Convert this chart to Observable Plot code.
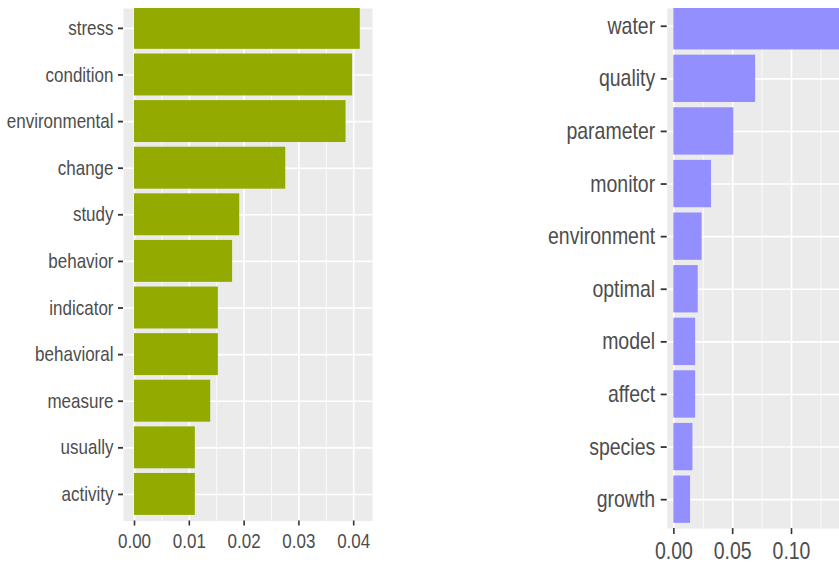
<!DOCTYPE html>
<html>
<head>
<meta charset="utf-8">
<script src="https://cdn.jsdelivr.net/npm/d3@7"></script>
<script src="https://cdn.jsdelivr.net/npm/@observablehq/plot@0.6"></script>
<style>
  html, body { margin: 0; padding: 0; background: #ffffff; }
  #fig { position: relative; width: 839px; height: 563px; overflow: hidden; background: #ffffff; }
  #left, #right { position: absolute; top: 0; }
  #left { left: 0px; }
  #right { left: 400px; }
  svg { display: block; }
</style>
</head>
<body>
<div id="fig"><div id="left"></div><div id="right"></div></div>
<script>
// ---- data ----
const leftTerms = ["stress","condition","environmental","change","study","behavior","indicator","behavioral","measure","usually","activity"];
const leftBeta  = [0.0412, 0.0398, 0.0386, 0.0276, 0.0192, 0.0179, 0.0153, 0.0153, 0.0139, 0.0111, 0.0111];
const leftTicks = [0, 0.01, 0.02, 0.03, 0.04];
const leftMinor = [0.005, 0.015, 0.025, 0.035];

const rightTerms = ["water","quality","parameter","monitor","environment","optimal","model","affect","species","growth"];
const rightBeta  = [0.18, 0.0695, 0.051, 0.032, 0.024, 0.0207, 0.0185, 0.0185, 0.0162, 0.0142];
const rightTicks = [0, 0.05, 0.10];
const rightMinor = [0.025, 0.075, 0.125];

const leftColor = "#93AA00";
const rightColor = "#938FFF";
const panelBg = "#EBEBEB";
const textColor = "#4D4D4D";
const tickColor = "#333333";
const font = "'Liberation Sans', Arial, sans-serif";
const STRETCH = 1.2;

function stretchText(svg) {
  svg.querySelectorAll("text").forEach(t => {
    const tr = t.getAttribute("transform") || "";
    t.setAttribute("transform", `${tr} scale(1,${STRETCH})`);
  });
  return svg;
}

function panel({terms, beta, ticks, minor, color, width, height, marginLeft, marginRight, marginTop, marginBottom,
                xDomain, yRange, paddingOuter, fontSize, tickSizeX, tickPadX, tickSizeY, tickPadY, fmt}) {
  const data = terms.map((t, i) => ({term: t, beta: beta[i]}));
  return Plot.plot({
    width, height, marginLeft, marginRight, marginTop, marginBottom,
    style: {fontFamily: font, background: "transparent"},
    x: {domain: xDomain},
    y: {domain: terms, range: yRange, paddingInner: 0.1, paddingOuter, align: 0.5, round: false},
    marks: [
      Plot.frame({fill: panelBg, stroke: "none"}),
      Plot.gridX(minor, {stroke: "#ffffff", strokeOpacity: 1, strokeWidth: 0.8}),
      Plot.gridX(ticks, {stroke: "#ffffff", strokeOpacity: 1, strokeWidth: 1.6}),
      Plot.gridY(terms, {stroke: "#ffffff", strokeOpacity: 1, strokeWidth: 1.6}),
      Plot.barX(data, {x: "beta", y: "term", fill: color, clip: true}),
      Plot.axisX(ticks, {anchor: "bottom", label: null, tickFormat: d3.format(fmt), tickSize: tickSizeX, tickPadding: tickPadX,
        fontSize, fill: textColor, stroke: tickColor, strokeWidth: 1.6}),
      Plot.axisY(terms, {anchor: "left", label: null, tickSize: tickSizeY, tickPadding: tickPadY,
        fontSize, fill: textColor, stroke: tickColor, strokeWidth: 1.8})
    ]
  });
}

const leftSvg = panel({
  terms: leftTerms, beta: leftBeta, ticks: leftTicks, minor: leftMinor, color: leftColor,
  width: 380, height: 563, marginLeft: 123, marginRight: 8, marginTop: 8, marginBottom: 42.5,
  xDomain: [-0.00201, 0.04343], yRange: [1.3, 520.5], paddingOuter: 0.12,
  fontSize: 17, tickSizeX: 5, tickPadX: 8, tickSizeY: 5, tickPadY: 5, fmt: ".2f"
});
document.getElementById("left").appendChild(stretchText(leftSvg));

const rightSvg = panel({
  terms: rightTerms, beta: rightBeta, ticks: rightTicks, minor: rightMinor, color: rightColor,
  width: 439, height: 563, marginLeft: 266.7, marginRight: 0, marginTop: 8, marginBottom: 34.9,
  xDomain: [-0.00566, 0.1408], yRange: [-3.2, 528.1], paddingOuter: 0.1,
  fontSize: 19.5, tickSizeX: 6, tickPadX: 7.5, tickSizeY: 6, tickPadY: 6, fmt: ".2f"
});
document.getElementById("right").appendChild(stretchText(rightSvg));
</script>
</body>
</html>
